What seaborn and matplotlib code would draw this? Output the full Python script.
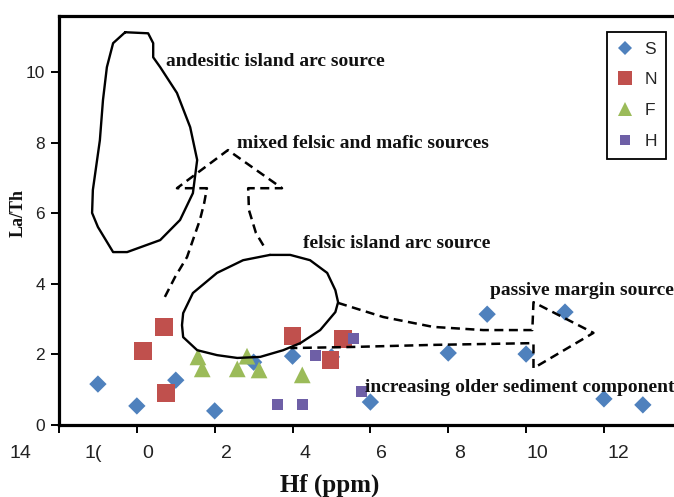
import numpy as np
import pandas as pd
import matplotlib
matplotlib.use("Agg")
import matplotlib.pyplot as plt
from matplotlib.lines import Line2D
import seaborn as sns

# ---------------- data ----------------
groups = ["S", "N", "F", "H"]
S_hf = [1, 2, 3, 4, 5, 6, 7, 8, 10, 11, 12, 13, 14, 15]
S_lath = [1.16, 0.54, 1.27, 0.40, 1.78, 1.95, 1.93, 0.65, 2.04, 3.14, 2.01, 3.20, 0.74, 0.57]
N_hf = [2.16, 2.70, 2.75, 5.99, 7.30, 6.97]
N_lath = [2.10, 2.78, 0.91, 2.52, 2.44, 1.84]
F_hf = [3.57, 3.68, 4.83, 4.58, 5.14, 6.25]
F_lath = [1.93, 1.59, 1.95, 1.59, 1.56, 1.42]
H_hf = [5.62, 6.26, 6.60, 7.57, 7.78]
H_lath = [0.59, 0.57, 1.96, 2.46, 0.96]

y_ticks = [0, 2, 4, 6, 8, 10]
x_ticks = [0, 2, 4, 6, 8, 10, 12, 14]
x_tick_labels = ["14", "1(", "0", "2", "4", "6", "8", "10", "12"]

annotations = [
    "andesitic island arc source",
    "mixed felsic and mafic sources",
    "felsic island arc source",
    "passive margin source",
    "increasing older sediment component",
]

# ---------------- styling / layout ----------------
colors = {"S": "#4F81BD", "N": "#C0504D", "F": "#9BBB59", "H": "#6E5FA6"}
markers = {"S": "D", "N": "s", "F": "^", "H": "s"}
sizes = {"S": 78, "N": 155, "F": 145, "H": 62}

x_label_pos = [-1.0, 0.88, 2.29, 4.30, 6.31, 8.29, 10.30, 12.30, 14.36]
ann_pos = [(2.75, 10.31), (4.58, 7.99), (6.27, 5.13), (11.08, 3.82), (7.87, 1.05)]

andesitic = [(1.70, 11.13), (2.29, 11.10), (2.42, 10.82), (2.42, 10.42), (2.60, 10.14),
             (3.03, 9.41), (3.37, 8.44), (3.55, 7.51), (3.44, 6.57), (3.11, 5.81),
             (2.60, 5.24), (1.75, 4.90), (1.39, 4.90), (1.00, 5.61), (0.85, 6.01),
             (0.87, 6.66), (1.05, 8.07), (1.13, 9.21), (1.23, 10.14), (1.39, 10.82),
             (1.70, 11.13)]
felsic = [(5.42, 4.82), (5.94, 4.82), (6.45, 4.67), (6.89, 4.31), (7.10, 3.82),
          (7.17, 3.48), (7.10, 3.20), (6.71, 2.69), (6.20, 2.32), (5.76, 2.12),
          (5.17, 1.93), (4.58, 1.90), (4.06, 1.98), (3.55, 2.12), (3.19, 2.49),
          (3.16, 2.83), (3.19, 3.17), (3.44, 3.74), (4.06, 4.31), (4.73, 4.67),
          (5.42, 4.82)]
up_arrow = [(2.72, 3.63), (2.98, 4.19), (3.29, 4.76), (3.44, 5.24), (3.62, 5.81),
            (3.73, 6.29), (3.80, 6.71), (3.03, 6.71), (4.34, 7.79), (5.73, 6.71),
            (4.86, 6.71), (4.88, 6.09), (5.06, 5.44), (5.32, 4.96)]
right_arrow = [(7.17, 3.46), (8.33, 3.06), (9.61, 2.78), (10.90, 2.69), (12.16, 2.69),
               (12.19, 3.48), (13.73, 2.61), (12.19, 1.61), (12.19, 2.32),
               (9.61, 2.27), (7.48, 2.21), (5.94, 2.18)]

# ---------------- build table ----------------
df = pd.concat([
    pd.DataFrame({"Hf": S_hf, "LaTh": S_lath, "group": "S"}),
    pd.DataFrame({"Hf": N_hf, "LaTh": N_lath, "group": "N"}),
    pd.DataFrame({"Hf": F_hf, "LaTh": F_lath, "group": "F"}),
    pd.DataFrame({"Hf": H_hf, "LaTh": H_lath, "group": "H"}),
], ignore_index=True)

sns.set_theme(style="white")
plt.rcParams["font.family"] = ["Liberation Sans", "DejaVu Sans"]

W, H = 674, 497
fig = plt.figure(figsize=(W / 100, H / 100), dpi=100)
ax = fig.add_axes([59 / W, (H - 425) / H, 615 / W, 409 / H])

sns.scatterplot(data=df, x="Hf", y="LaTh", hue="group", style="group", size="group",
                palette=colors, markers=markers, sizes=sizes, hue_order=groups,
                style_order=groups, size_order=groups, linewidth=0, legend=False,
                ax=ax, zorder=2)

# shapes
for pts in [andesitic, felsic]:
    xs, ys = zip(*pts)
    ax.plot(xs, ys, color="black", lw=1.7, solid_joinstyle="round", zorder=3)
for pts in [up_arrow, right_arrow]:
    xs, ys = zip(*pts)
    ax.plot(xs, ys, color="black", lw=1.8, ls=(0, (3.6, 2.2)), zorder=3)

for txt, (tx, ty) in zip(annotations, ann_pos):
    ax.text(tx, ty, txt, family=["Liberation Serif", "DejaVu Serif"], fontweight="bold",
            fontsize=14, color="#111111", ha="left", va="center", zorder=4)

# axes & ticks
ax.set_xticks(x_ticks)
ax.set_xticklabels([""] * len(x_ticks))
ax.tick_params(axis="x", which="major", direction="out", length=6, width=1.4,
               color="black", bottom=True)
# the (misplaced) x tick labels of the original figure, drawn on the x-axis transform
xtrans = ax.get_xaxis_transform()
for lab, pos in zip(x_tick_labels, x_label_pos):
    ax.text(pos, (425 - 454) / 409, lab, transform=xtrans, ha="center", va="center",
            fontsize=14, color="#222222", clip_on=False)

ax.set_yticks(y_ticks)
ax.tick_params(axis="y", direction="out", length=6, width=1.4, color="black", left=True,
               labelsize=12.5, labelcolor="#222222", pad=4)

# limits set after ticks (set_xticks may widen the view)
ax.set_xlim(0, 15.8)
ax.set_ylim(0, 11.59)

for side in ["left", "bottom", "top"]:
    ax.spines[side].set_visible(True)
    ax.spines[side].set_color("black")
    ax.spines[side].set_linewidth(2.3)
ax.spines["right"].set_visible(False)

ax.set_xlabel("Hf (ppm)", family=["Liberation Serif", "DejaVu Serif"], fontweight="bold",
              fontsize=18, color="#111111")
ax.xaxis.label.set_va("center")
ax.xaxis.set_label_coords((330 - 59) / 615, (425 - 485) / 409)
ax.set_ylabel("La/Th", family=["Liberation Serif", "DejaVu Serif"], fontweight="bold",
              fontsize=13, color="#111111")
ax.yaxis.label.set_va("center")
ax.yaxis.set_label_coords((18 - 59) / 615, (425 - 213) / 409)

# legend
leg_ms = {"S": 6.8, "N": 10, "F": 10, "H": 6.5}
handles = [Line2D([], [], ls="none", marker=markers[g], color=colors[g], mew=0, ms=leg_ms[g])
           for g in groups]
leg = ax.legend(handles, groups, loc="upper left", bbox_to_anchor=(607 / W, 1 - 32 / H),
                bbox_transform=fig.transFigure, frameon=True, fancybox=False,
                edgecolor="black", framealpha=1, fontsize=12.5, labelspacing=0.9,
                handlelength=1.0, handletextpad=0.6, borderpad=0.55, borderaxespad=0)
leg.get_frame().set_linewidth(1.3)
leg.set_zorder(5)

fig.savefig("out.png", dpi=100)
